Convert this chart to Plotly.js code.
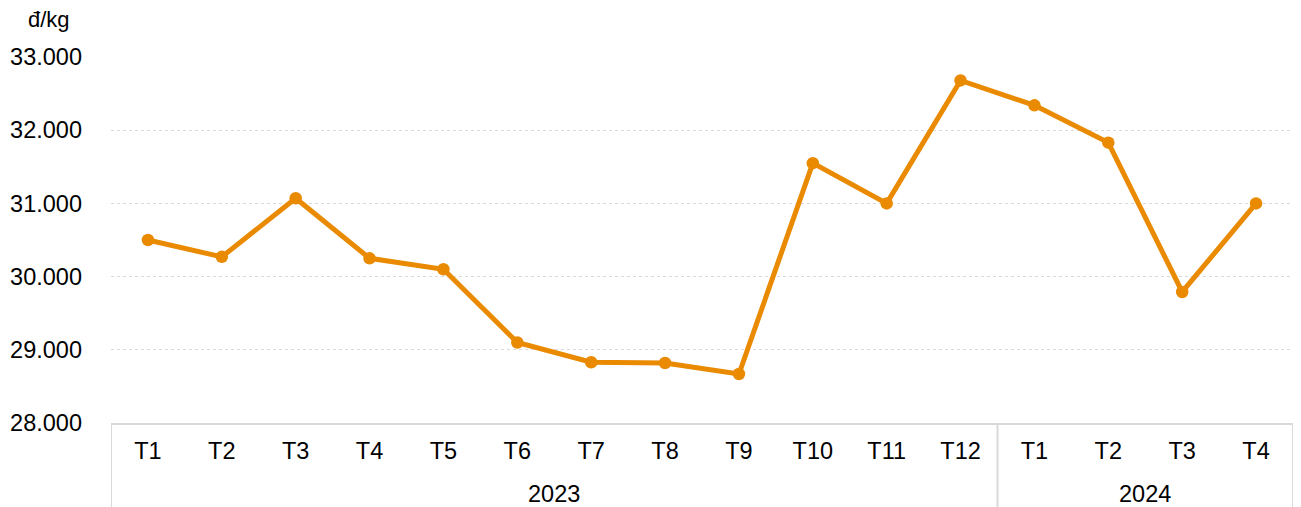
<!DOCTYPE html>
<html>
<head>
<meta charset="utf-8">
<script src="https://cdn.plot.ly/plotly-3.0.1.min.js"></script>
<style>
  html, body { margin: 0; padding: 0; background: #fff; }
  #chart { width: 1301px; height: 507px; }
</style>
</head>
<body>
<div id="chart"></div>
<script>
const years = ['2023','2023','2023','2023','2023','2023','2023','2023','2023','2023','2023','2023','2024','2024','2024','2024'];
const months = ['T1','T2','T3','T4','T5','T6','T7','T8','T9','T10','T11','T12','T1','T2','T3','T4'];
const prices = [30500, 30270, 31070, 30250, 30100, 29100, 28830, 28820, 28670, 31550, 31000, 32680, 32340, 31830, 29790, 31000];
const yTicks = [28000, 29000, 30000, 31000, 32000, 33000];
const unitLabel = 'đ/kg';

const orange = '#E98A00';
const grid = '#D9D9D9';
const fontFam = '"Liberation Sans", Arial, sans-serif';
const fs = 23.5;

const idx = months.map((_, i) => i);

const trace = {
  type: 'scatter',
  mode: 'lines+markers',
  x: idx,
  y: prices,
  line: { color: orange, width: 5 },
  marker: { color: orange, size: 12.5 },
  hoverinfo: 'skip'
};

// group boundaries and year labels derived from the years array
const groups = [];
years.forEach((y, i) => {
  if (!groups.length || groups[groups.length - 1].year !== y) groups.push({ year: y, start: i, end: i });
  else groups[groups.length - 1].end = i;
});
const bounds = [-0.5].concat(groups.map(g => g.end + 0.5));

const shapes = bounds.map(b => ({
  type: 'line', xref: 'x', yref: 'paper',
  x0: b, x1: b, y0: 0, y1: -0.25,
  line: { color: grid, width: 2 }
}));

const annotations = groups.map(g => ({
  text: g.year,
  xref: 'x', yref: 'paper',
  x: (g.start + g.end) / 2, y: 0, yshift: -71,
  xanchor: 'center', yanchor: 'middle',
  showarrow: false,
  font: { family: fontFam, size: fs, color: '#000' }
}));
annotations.push({
  text: unitLabel,
  xref: 'paper', yref: 'paper',
  x: -0.0525, y: 1, yshift: 38,
  xanchor: 'center', yanchor: 'middle',
  showarrow: false,
  font: { family: fontFam, size: 22, color: '#000' }
});

const layout = {
  width: 1301,
  height: 507,
  margin: { l: 111, r: 8, t: 57, b: 84 },
  paper_bgcolor: '#fff',
  plot_bgcolor: '#fff',
  separators: ',.',
  showlegend: false,
  font: { family: fontFam, size: fs, color: '#000' },
  xaxis: {
    range: [-0.5, months.length - 0.5],
    tickvals: idx,
    ticktext: months,
    showgrid: false,
    zeroline: false,
    showline: true,
    linecolor: grid,
    linewidth: 2,
    ticks: '',
    ticklabelstandoff: 6,
    tickfont: { family: fontFam, size: fs, color: '#000' },
    fixedrange: true
  },
  yaxis: {
    range: [28000, 33000],
    tickvals: yTicks,
    tickformat: ',d',
    showgrid: true,
    gridcolor: grid,
    gridwidth: 1.3,
    griddash: 'dot',
    zeroline: false,
    showline: false,
    ticks: '',
    ticklabelstandoff: 28,
    tickfont: { family: fontFam, size: fs, color: '#000' },
    fixedrange: true
  },
  shapes: shapes,
  annotations: annotations
};

Plotly.newPlot('chart', [trace], layout, { staticPlot: true, displayModeBar: false });
</script>
</body>
</html>
